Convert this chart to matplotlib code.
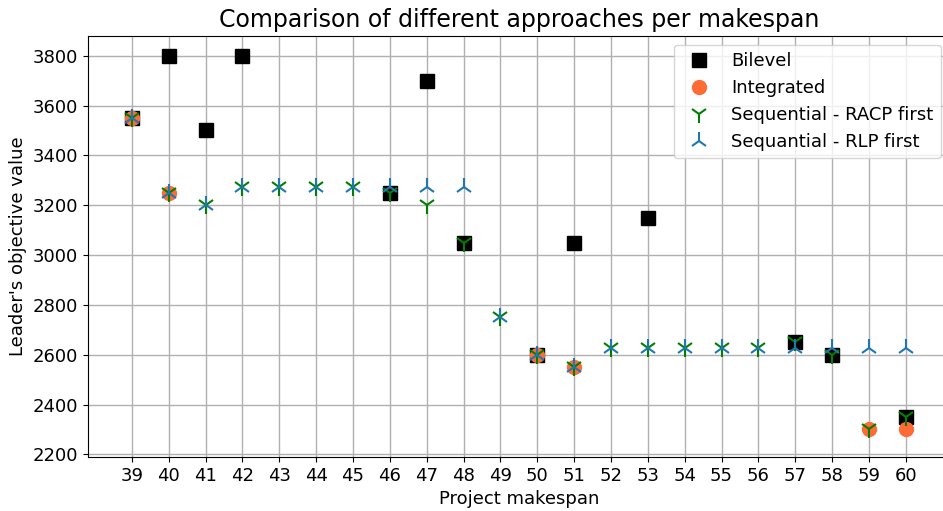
import matplotlib
matplotlib.use("Agg")
import matplotlib.pyplot as plt

makespans = list(range(39, 61))

# Bilevel
bilevel_x = [39, 40, 41, 42, 46, 47, 48, 50, 51, 53, 57, 58, 60]
bilevel_y = [3550, 3800, 3500, 3800, 3250, 3700, 3050, 2600, 3050, 3150, 2650, 2600, 2350]

# Integrated
integrated_x = [39, 40, 50, 51, 59, 60]
integrated_y = [3550, 3250, 2600, 2550, 2300, 2300]

# Sequential, RACP solved first
racp_x = makespans
racp_y = [3550, 3250, 3200, 3275, 3275, 3275, 3275, 3250, 3200, 3050, 2750,
          2600, 2550, 2625, 2625, 2625, 2625, 2625, 2650, 2600, 2300, 2350]

# Sequential, RLP solved first
rlp_x = makespans
rlp_y = [3550, 3250, 3200, 3275, 3275, 3275, 3275, 3275, 3275, 3275, 2750,
         2600, 2550, 2625, 2625, 2625, 2625, 2625, 2625, 2625, 2625, 2625]

y_ticks = list(range(2200, 3801, 200))

fig, ax = plt.subplots(figsize=(9.43, 5.11), dpi=100)
fig.subplots_adjust(left=0.093, right=1.0074, top=0.93, bottom=0.106)

ax.plot(bilevel_x, bilevel_y, "s", color="black", markersize=10, label="Bilevel")
ax.plot(integrated_x, integrated_y, "o", color="#ff6b35", markersize=10, label="Integrated")
ax.plot(racp_x, racp_y, "1", color="green", markersize=13, markeredgewidth=1.5,
        label="Sequential - RACP first")
ax.plot(rlp_x, rlp_y, "2", color="#1f77b4", markersize=13, markeredgewidth=1.5,
        label="Sequantial - RLP first")

ax.set_xticks(makespans)
ax.set_yticks(y_ticks)
ax.set_xlim(37.8, 61.2)
ax.set_ylim(2190, 3880)
ax.tick_params(labelsize=13)
ax.grid(True, color="#b0b0b0", linewidth=1)
ax.set_axisbelow(True)

ax.set_title("Comparison of different approaches per makespan", fontsize=17)
ax.set_xlabel("Project makespan", fontsize=13)
ax.set_ylabel("Leader's objective value", fontsize=13)
ax.legend(loc="upper right", fontsize=13)

plt.savefig("out.png")
